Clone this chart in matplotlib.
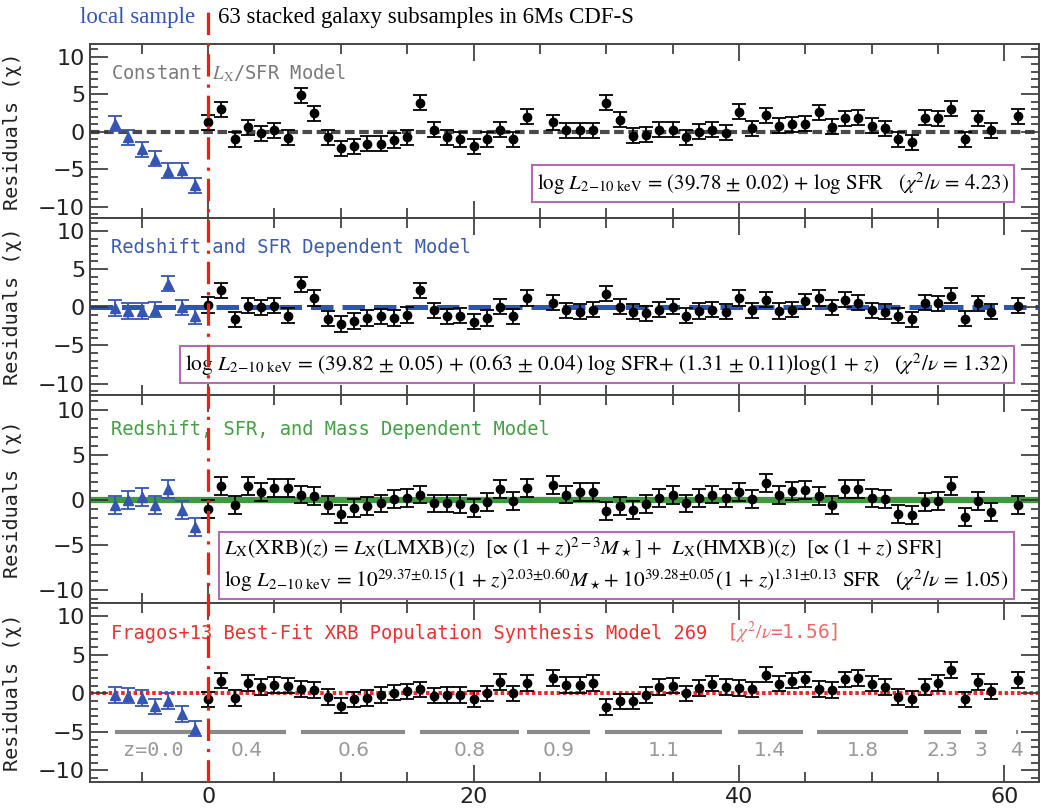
import matplotlib
matplotlib.use('Agg')
import matplotlib.pyplot as plt
from matplotlib.ticker import MultipleLocator

plt.rcParams['mathtext.fontset'] = 'stix'
plt.rcParams['font.family'] = ['DejaVu Sans']

# x positions
x_local = [-7, -6, -5, -4, -3, -2, -1]
x_gal = list(range(0, 25)) + list(range(26, 60)) + [61]

# residuals, panel 1: constant LX/SFR
local_const = [1.1, -0.7, -2.3, -3.6, -5.2, -5.1, -7.1]
gal_const = [1.3, 3.0, -1.0, 0.6, -0.2, 0.2, -0.8, 4.9, 2.5, -0.7,
             -2.2, -1.9, -1.6, -1.6, -1.1, -0.7, 3.9, 0.3, -0.7, -1.0,
             -1.9, -1.0, 0.3, -1.0, 2.0,
             1.3, 0.2, 0.2, 0.2, 3.9, 1.6, -0.5, -0.4, 0.3, 0.3,
             -0.7, 0.0, 0.3, -0.1, 2.7, 0.5, 2.2, 0.8, 1.0, 1.1,
             2.6, 0.7, 1.8, 1.9, 0.8, 0.5, -1.0, -1.4, 1.9, 1.8,
             3.1, -1.0, 1.8, 0.2, 2.1]

# panel 2: redshift + SFR
local_zsfr = [-0.1, -0.5, -0.5, -0.3, 3.1, 0.0, -1.2]
gal_zsfr = [0.3, 2.2, -1.6, 0.2, 0.0, 0.2, -1.1, 3.0, 1.2, -1.5,
            -2.2, -1.8, -1.4, -1.2, -1.4, -1.0, 2.2, -0.4, -1.2, -1.1,
            -1.9, -1.4, 0.1, -1.2, 1.2,
            0.6, -0.4, -0.6, -0.3, 1.8, 0.1, -0.6, -0.8, -0.3, 0.1,
            -1.1, -0.5, -0.3, -0.6, 1.2, -0.4, 1.0, -0.5, -0.3, 0.8,
            1.2, 0.0, 1.0, 0.6, -0.4, -0.6, -1.1, -1.6, 0.6, 0.5,
            1.5, -1.5, 0.5, -0.6, 0.2]

# panel 3: redshift + SFR + mass
local_mass = [-0.55, 0.0, 0.3, -0.55, 1.2, -1.1, -3.0]
gal_mass = [-1.0, 1.6, -0.55, 1.5, 0.85, 1.3, 1.3, 0.6, 0.4, -0.55,
            -1.6, -0.9, -0.65, -0.4, 0.1, 0.2, 0.6, -0.4, -0.4, -0.5,
            -0.9, -0.25, 1.2, -0.1, 1.3,
            1.7, 0.6, 0.85, 0.9, -1.2, -0.7, -1.1, -0.5, 0.25, 0.55,
            -0.4, 0.25, 0.6, 0.25, 0.9, 0.1, 1.9, 0.55, 1.0, 1.1,
            0.4, -0.55, 1.2, 1.2, 0.25, 0.1, -1.6, -1.7, -0.25, -0.1,
            1.6, -1.9, -0.1, -1.35, -0.55]

# panel 4: Fragos+13 model 269
local_fragos = [-0.2, -0.3, -0.6, -1.7, -1.0, -2.7, -4.6]
gal_fragos = [-0.8, 1.65, -0.6, 1.35, 0.8, 1.1, 1.0, 0.55, 0.4, -0.5,
              -1.6, -0.8, -0.6, -0.25, 0.1, 0.25, 0.5, -0.3, -0.2, -0.25,
              -0.75, 0.0, 1.45, 0.0, 1.35,
              2.0, 1.1, 1.1, 1.35, -1.8, -1.05, -1.05, -0.2, 0.8, 1.0,
              0.0, 0.7, 1.25, 0.8, 0.7, 0.5, 2.4, 1.25, 1.65, 1.8,
              0.55, 0.4, 1.8, 2.0, 1.25, 0.8, -0.5, -0.75, 0.8, 1.35,
              3.0, -0.8, 1.45, 0.25, 1.7]

# redshift bins (bottom panel)
zbin_labels = ['z=0.0', '0.4', '0.6', '0.8', '0.9', '1.1', '1.4', '1.8', '2.3', '3', '4']
zbin_start = [-7.0, 0.0, 7.0, 16.0, 24.0, 29.9, 39.9, 45.9, 53.9, 57.8, 60.9]
zbin_end = [-1.2, 5.85, 14.85, 23.4, 28.8, 38.7, 44.8, 52.7, 56.7, 58.7, 61.05]

titles = ['Constant $L_{\\rm X}$/SFR Model',
          'Redshift and SFR Dependent Model',
          'Redshift, SFR, and Mass Dependent Model',
          'Fragos+13 Best-Fit XRB Population Synthesis Model 269']
title_colors = ['#7a7a7a', '#3a5cb4', '#45a045', '#ee3030']

eq1 = ('log $L_{2\\!-\\!10\\ \\mathrm{keV}}$ = (39.78 ± 0.02) + log SFR   '
       '($\\chi^2/\\nu$ = 4.23)')
eq2 = ('log $L_{2\\!-\\!10\\ \\mathrm{keV}}$ = (39.82 ± 0.05) + (0.63 ± 0.04) log SFR'
       '+ (1.31 ± 0.11)log(1 + $z$)   ($\\chi^2/\\nu$ = 1.32)')
eq3 = ('$L_{\\rm X}$(XRB)($z$) = $L_{\\rm X}$(LMXB)($z$)  [∝ (1 + $z$)$^{2-3}M_\\star$] +  '
       '$L_{\\rm X}$(HMXB)($z$)  [∝ (1 + $z$) SFR]\n'
       'log $L_{2\\!-\\!10\\ \\mathrm{keV}}$ = $10^{29.37±0.15}$(1 + $z$)$^{2.03±0.60}M_\\star$+ '
       '$10^{39.28±0.05}$(1 + $z$)$^{1.31±0.13}$ SFR   ($\\chi^2/\\nu$ = 1.05)')

mono = 'DejaVu Sans Mono'

fig = plt.figure(figsize=(10.4, 8.09), dpi=100)
left, right = 90 / 1040, 1039 / 1040
top, bottom = 1 - 44 / 809, 1 - 782 / 809
gs = fig.add_gridspec(4, 1, height_ratios=[174, 177, 208, 179], hspace=0,
                      left=left, right=right, top=top, bottom=bottom)
axes = [fig.add_subplot(gs[i]) for i in range(4)]

locals_ = [local_const, local_zsfr, local_mass, local_fragos]
gals = [gal_const, gal_zsfr, gal_mass, gal_fragos]
xlim = (-8.9, 62.6)

for i, ax in enumerate(axes):
    if i == 0:
        ax.axhline(0, color='#4a4a4a', lw=3, ls=(0, (2.3, 1.1)), zorder=1)
    elif i == 1:
        ax.axhline(0, color='#2e55b5', lw=3.6, ls=(0, (4.5, 1.8)), zorder=1)
    elif i == 2:
        ax.axhline(0, color='#3e9a3e', lw=4.5, zorder=1)
    else:
        ax.axhline(0, color='#ff2222', lw=2.8, ls=(0, (0.9, 0.7)), zorder=1)

    ax.errorbar(x_local, locals_[i], yerr=1.0, fmt='^', color='#3555b5',
                ms=6.5, elinewidth=1.3, capsize=5, capthick=1.3, zorder=3)
    ax.errorbar(x_gal, gals[i], yerr=1.0, fmt='o', color='black',
                ms=6, elinewidth=1.3, capsize=5, capthick=1.3, zorder=3)

    ax.set_xlim(*xlim)
    ax.set_ylim(-11.5, 11.7)
    ax.xaxis.set_major_locator(MultipleLocator(20))
    ax.xaxis.set_minor_locator(MultipleLocator(5))
    ax.yaxis.set_major_locator(MultipleLocator(5))
    ax.yaxis.set_minor_locator(MultipleLocator(1))
    ax.tick_params(which='both', direction='in', top=True, right=True,
                   colors='#333333', labelsize=16)
    ax.tick_params(axis='x', which='major', length=12, width=1.2)
    ax.tick_params(axis='x', which='minor', length=7, width=1.2)
    ax.tick_params(axis='y', which='major', length=13, width=1.2)
    ax.tick_params(axis='y', which='minor', length=6, width=1.2)
    for lab in ax.get_yticklabels() + ax.get_xticklabels():
        lab.set_color('#222222')
    for sp in ax.spines.values():
        sp.set_color('#444444')
        sp.set_linewidth(1.4)
    if i < 3:
        ax.tick_params(axis='x', labelbottom=False)

    ax.set_ylabel('Residuals (χ)', family=mono, fontsize=14.5,
                  color='#222222')
    ax.yaxis.set_label_coords(-0.072, 0.5)

    ax.text(-7.3, 7.8, titles[i], color=title_colors[i], fontsize=13.5,
            family=mono, va='center', ha='left', zorder=4)

axes[3].text(39.0, 7.8, '[$\\chi^2/\\nu$=1.56]', color='#f06868', fontsize=14,
             family=mono, va='center', ha='left')

box = dict(boxstyle='square,pad=0.25', fc='white', ec='#b46ab4', lw=1.5)
axes[0].text(0.968, 0.198, eq1, transform=axes[0].transAxes, ha='right',
             va='center', fontsize=15, family='STIXGeneral', bbox=box, zorder=5)
axes[1].text(0.968, 0.172, eq2, transform=axes[1].transAxes, ha='right',
             va='center', fontsize=15.4, family='STIXGeneral', bbox=box, zorder=5)
axes[2].text(0.968, 0.183, eq3, transform=axes[2].transAxes, ha='right',
             va='center', fontsize=15.3, family='STIXGeneral', bbox=box, zorder=5,
             multialignment='left', linespacing=1.25)

# redshift bins
ax = axes[3]
ax.hlines([-5] * len(zbin_start), zbin_start, zbin_end, color='#8a8a8a',
          lw=3, zorder=2)
for lab, s, e in zip(zbin_labels, zbin_start, zbin_end):
    fam = mono if lab.startswith('z') else 'DejaVu Sans'
    ax.text((s + e) / 2, -7.4, lab, color='#9a9a9a', fontsize=14.5,
            family=fam, ha='center', va='center')

# red dash-dot separator spanning all panels and the header
ov = fig.add_axes([left, bottom, right - left, (1 - 5 / 809) - bottom])
ov.set_xlim(*xlim)
ov.set_ylim(0, 1)
ov.axis('off')
ov.axvline(0, color='#ee1c1c', lw=2.3, ls=(0, (7, 2.5, 1, 2.5)), zorder=10)

fig.text(195 / 1040, 1 - 18 / 809, 'local sample', color='#3555b5',
         family='Liberation Serif', fontsize=16.5, ha='right', va='center')
fig.text(218 / 1040, 1 - 18 / 809, '63 stacked galaxy subsamples in 6Ms CDF-S',
         color='black', family='Liberation Serif', fontsize=16.5,
         ha='left', va='center')

fig.savefig('out.png', dpi=100)
